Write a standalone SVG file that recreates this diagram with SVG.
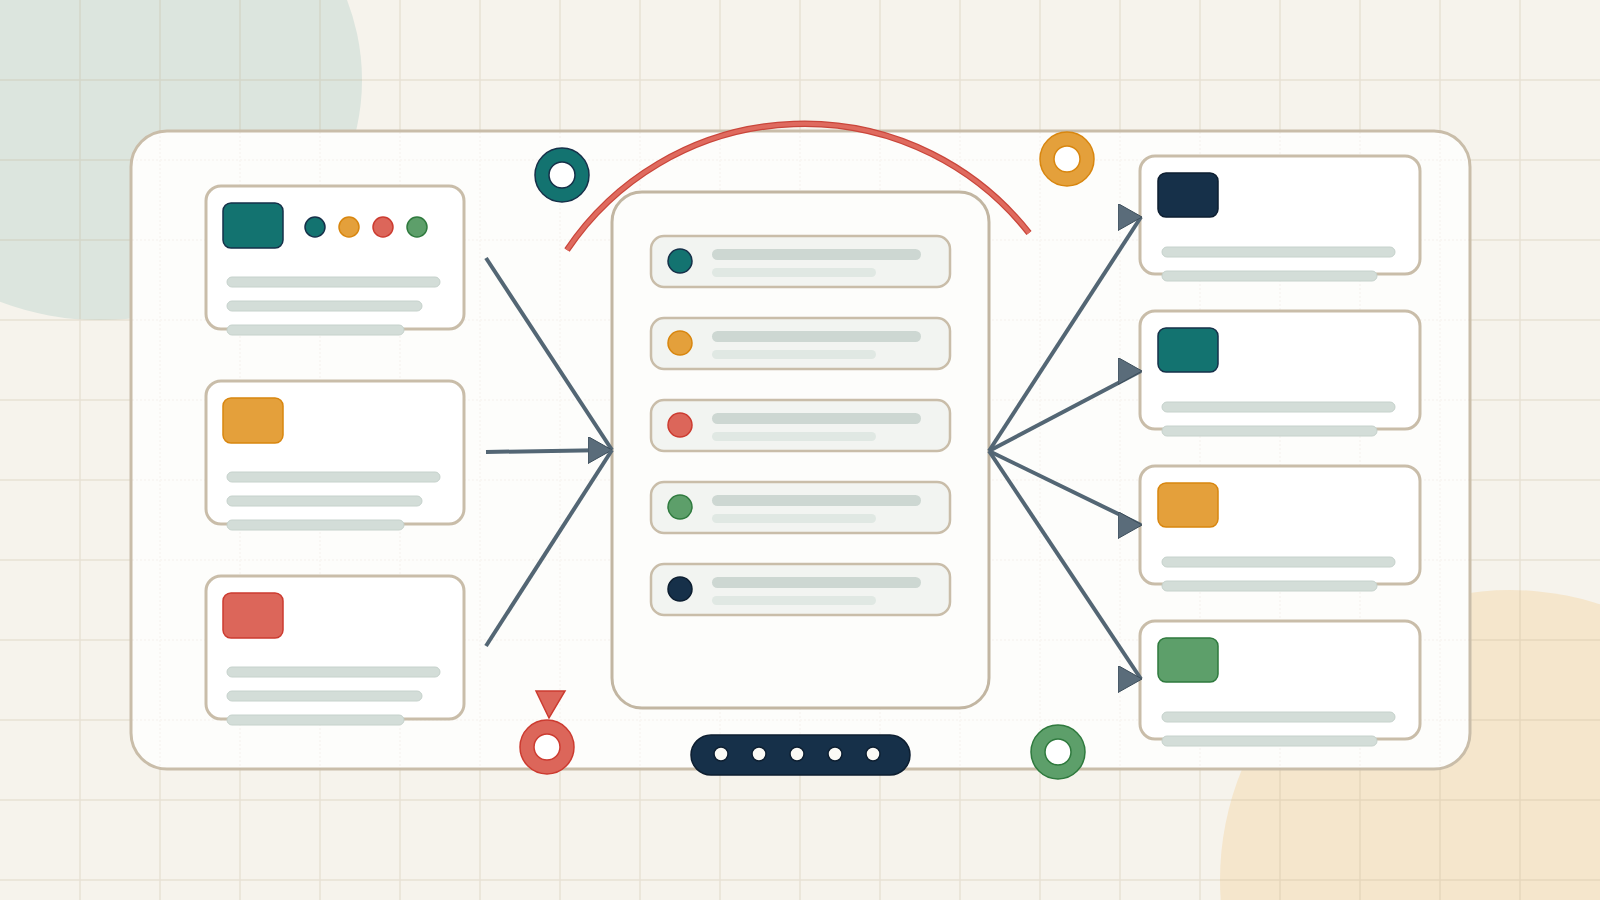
<svg xmlns="http://www.w3.org/2000/svg" width="1600" height="900" viewBox="0 0 1600 900">
<defs>
<style>
.grid{stroke:#b9a88a;stroke-opacity:0.24;stroke-width:1.5}
.pgrid{stroke:#b9a88a;stroke-opacity:0.08;stroke-width:1.5;stroke-dasharray:2 2}
.card{fill:#ffffff;stroke:#c9bda9;stroke-width:3}
.bar{fill:#d3ddd8;stroke:#c6d2cc;stroke-width:1}
.row{fill:#f2f4f1;stroke:#c9bda9;stroke-width:2.5}
.rbar1{fill:#cdd7d2}
.rbar2{fill:#e0e8e3}
.conn{stroke:#536674;stroke-width:4;fill:none;stroke-linecap:butt}
.teal{fill:#137370;stroke:#163049;stroke-width:1.5}
.orange{fill:#e4a03b;stroke:#d8860f;stroke-width:1.5}
.red{fill:#dc665a;stroke:#cc3b30;stroke-width:1.5}
.green{fill:#5d9f6a;stroke:#2f7a3e;stroke-width:1.5}
.navy{fill:#163049;stroke:#0d1e30;stroke-width:1.5}
.hole{fill:#ffffff}
</style>
<marker id="ah" markerUnits="userSpaceOnUse" viewBox="0 0 24 27" markerWidth="24" markerHeight="27" refX="23" refY="13.5" orient="0">
<path d="M0,0 L24,13.5 L0,27 Z" fill="#5a6c7a" stroke="#3c4d5a" stroke-width="1"/>
</marker>
<clipPath id="pclip"><rect x="131" y="131" width="1339" height="638" rx="36"/></clipPath>
<path id="gridlines" fill="none" d="M80 0V900M160 0V900M240 0V900M320 0V900M400 0V900M480 0V900M560 0V900M640 0V900M720 0V900M800 0V900M880 0V900M960 0V900M1040 0V900M1120 0V900M1200 0V900M1280 0V900M1360 0V900M1440 0V900M1520 0V900M0 80H1600M0 160H1600M0 240H1600M0 320H1600M0 400H1600M0 480H1600M0 560H1600M0 640H1600M0 720H1600M0 800H1600M0 880H1600"/>
</defs>

<rect width="1600" height="900" fill="#f6f3ec"/>
<ellipse cx="100" cy="80" rx="262" ry="240" fill="#dce5de"/>
<circle cx="1510" cy="880" r="290" fill="#f5e6cc"/>
<use href="#gridlines" class="grid"/>

<g id="panel">
<rect x="131" y="131" width="1339" height="638" rx="36" fill="#fdfdfb" stroke="#c9bda9" stroke-width="3"/>
<g clip-path="url(#pclip)"><use href="#gridlines" class="pgrid"/></g>
</g>

<g id="decor">
<path d="M567 250 A286 286 0 0 1 1029 233" fill="none" stroke="#c9463b" stroke-width="6.5"/>
<path d="M567 250 A286 286 0 0 1 1029 233" fill="none" stroke="#df6a5e" stroke-width="4"/>
<circle cx="562" cy="175" r="27" class="teal"/><circle cx="562" cy="175" r="13" class="hole" stroke="#163049" stroke-width="1.5"/>
<circle cx="1067" cy="159" r="27" class="orange"/><circle cx="1067" cy="159" r="13" class="hole" stroke="#d8860f" stroke-width="1.5"/>
<circle cx="547" cy="747" r="27" class="red"/><circle cx="547" cy="747" r="13" class="hole" stroke="#cc3b30" stroke-width="1.5"/>
<path d="M536 691 L565 691 L549 718 Z" class="red"/>
<circle cx="1058" cy="752" r="27" class="green"/><circle cx="1058" cy="752" r="13" class="hole" stroke="#2f7a3e" stroke-width="1.5"/>
<rect x="691" y="735" width="219" height="40" rx="20" class="navy"/>
<g fill="#fbfaf5" stroke="#0d1e30" stroke-width="1.5">
<circle cx="721" cy="754" r="7"/><circle cx="759" cy="754" r="7"/><circle cx="797" cy="754" r="7"/><circle cx="835" cy="754" r="7"/><circle cx="873" cy="754" r="7"/>
</g>
</g>

<g id="left-card-1">
<rect x="206" y="186" width="258" height="143" rx="15" class="card"/>
<rect x="223" y="203" width="60" height="45" rx="8" class="teal"/>
<circle cx="315" cy="227" r="10" class="teal"/>
<circle cx="349" cy="227" r="10" class="orange"/>
<circle cx="383" cy="227" r="10" class="red"/>
<circle cx="417" cy="227" r="10" class="green"/>
<rect x="227" y="277" width="213" height="10" rx="5" class="bar"/>
<rect x="227" y="301" width="195" height="10" rx="5" class="bar"/>
<rect x="227" y="325" width="177" height="10" rx="5" class="bar"/>
</g>
<g id="left-card-2">
<rect x="206" y="381" width="258" height="143" rx="15" class="card"/>
<rect x="223" y="398" width="60" height="45" rx="8" class="orange"/>
<rect x="227" y="472" width="213" height="10" rx="5" class="bar"/>
<rect x="227" y="496" width="195" height="10" rx="5" class="bar"/>
<rect x="227" y="520" width="177" height="10" rx="5" class="bar"/>
</g>
<g id="left-card-3">
<rect x="206" y="576" width="258" height="143" rx="15" class="card"/>
<rect x="223" y="593" width="60" height="45" rx="8" class="red"/>
<rect x="227" y="667" width="213" height="10" rx="5" class="bar"/>
<rect x="227" y="691" width="195" height="10" rx="5" class="bar"/>
<rect x="227" y="715" width="177" height="10" rx="5" class="bar"/>
</g>

<g id="center-list">
<rect x="612" y="192" width="377" height="516" rx="30" fill="#fdfdfb" stroke="#c2b6a2" stroke-width="3"/>
<rect x="651" y="236" width="299" height="51" rx="13" class="row"/>
<circle cx="680" cy="261" r="12" class="teal"/>
<rect x="712" y="249" width="209" height="11" rx="5.5" class="rbar1"/><rect x="712" y="268" width="164" height="9" rx="4.5" class="rbar2"/>
<rect x="651" y="318" width="299" height="51" rx="13" class="row"/>
<circle cx="680" cy="343" r="12" class="orange"/>
<rect x="712" y="331" width="209" height="11" rx="5.5" class="rbar1"/><rect x="712" y="350" width="164" height="9" rx="4.5" class="rbar2"/>
<rect x="651" y="400" width="299" height="51" rx="13" class="row"/>
<circle cx="680" cy="425" r="12" class="red"/>
<rect x="712" y="413" width="209" height="11" rx="5.5" class="rbar1"/><rect x="712" y="432" width="164" height="9" rx="4.5" class="rbar2"/>
<rect x="651" y="482" width="299" height="51" rx="13" class="row"/>
<circle cx="680" cy="507" r="12" class="green"/>
<rect x="712" y="495" width="209" height="11" rx="5.5" class="rbar1"/><rect x="712" y="514" width="164" height="9" rx="4.5" class="rbar2"/>
<rect x="651" y="564" width="299" height="51" rx="13" class="row"/>
<circle cx="680" cy="589" r="12" class="navy"/>
<rect x="712" y="577" width="209" height="11" rx="5.5" class="rbar1"/><rect x="712" y="596" width="164" height="9" rx="4.5" class="rbar2"/>
</g>

<g id="right-card-1">
<rect x="1140" y="156" width="280" height="118" rx="15" class="card"/>
<rect x="1158" y="173" width="60" height="44" rx="8" class="navy"/>
<rect x="1162" y="247" width="233" height="10" rx="5" class="bar"/>
<rect x="1162" y="271" width="215" height="10" rx="5" class="bar"/>
</g>
<g id="right-card-2">
<rect x="1140" y="311" width="280" height="118" rx="15" class="card"/>
<rect x="1158" y="328" width="60" height="44" rx="8" class="teal"/>
<rect x="1162" y="402" width="233" height="10" rx="5" class="bar"/>
<rect x="1162" y="426" width="215" height="10" rx="5" class="bar"/>
</g>
<g id="right-card-3">
<rect x="1140" y="466" width="280" height="118" rx="15" class="card"/>
<rect x="1158" y="483" width="60" height="44" rx="8" class="orange"/>
<rect x="1162" y="557" width="233" height="10" rx="5" class="bar"/>
<rect x="1162" y="581" width="215" height="10" rx="5" class="bar"/>
</g>
<g id="right-card-4">
<rect x="1140" y="621" width="280" height="118" rx="15" class="card"/>
<rect x="1158" y="638" width="60" height="44" rx="8" class="green"/>
<rect x="1162" y="712" width="233" height="10" rx="5" class="bar"/>
<rect x="1162" y="736" width="215" height="10" rx="5" class="bar"/>
</g>

<g id="connectors">
<line x1="486" y1="258" x2="612" y2="450" class="conn"/>
<line x1="486" y1="452" x2="611" y2="450" class="conn" marker-end="url(#ah)"/>
<line x1="486" y1="646" x2="612" y2="450" class="conn"/>
<line x1="989" y1="451" x2="1141" y2="217" class="conn" marker-end="url(#ah)"/>
<line x1="989" y1="451" x2="1141" y2="371" class="conn" marker-end="url(#ah)"/>
<line x1="989" y1="451" x2="1141" y2="525" class="conn" marker-end="url(#ah)"/>
<line x1="989" y1="451" x2="1141" y2="679" class="conn" marker-end="url(#ah)"/>
</g>
</svg>
